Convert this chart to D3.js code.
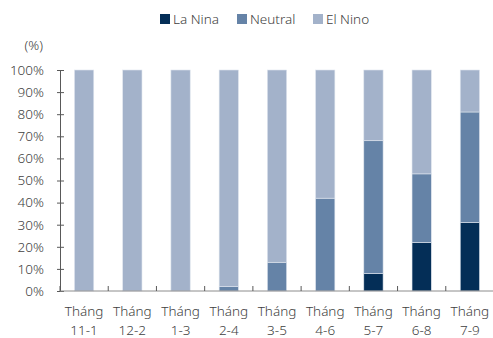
<html>
<head>
  <script src="https://d3js.org/d3.v7.min.js"></script>
  <style>
  body{ margin:0; background:#fff; }
  svg{ display:block; font-family:"Source Sans Pro","Noto Sans",sans-serif; font-weight:300; }
  </style>
</head>
<body>
<svg id="chart" width="493" height="338"></svg>
<script type="text/javascript">
var categories=["11-1","12-2","1-3","2-4","3-5","4-6","5-7","6-8","7-9"];
var laNina=[0,0,0,0,0,0,8,22,31];
var neutral=[0,0,0,2,13,42,60,31,50];
var elNino=[100,100,100,98,87,58,32,47,19];
var seriesNames=["La Nina","Neutral","El Nino"];
var colors=["#042e57","#6583a7","#a3b2ca"];
var yTicks=[0,10,20,30,40,50,60,70,80,90,100];

var chartL=60, chartR=494, chartT=70, chartB=291;
var fs="13.5px";

var rows=categories.map(function(c,i){
  return {cat:c,"La Nina":laNina[i],"Neutral":neutral[i],"El Nino":elNino[i]};
});
var stack=d3.stack().keys(seriesNames)(rows);

var svg=d3.select("#chart");
var x=d3.scaleBand().domain(categories).range([chartL,chartR]).paddingInner(0.6).paddingOuter(0.3);
var y=d3.scaleLinear().domain([0,100]).range([chartB,chartT]);
var step=x.step();

// bars
svg.selectAll("g.series")
   .data(stack)
   .enter()
   .append("g")
   .attr("class","series")
   .attr("fill",function(d,i){ return colors[i] })
   .selectAll("rect")
   .data(function(d){ return d.filter(function(p){ return p[1]-p[0]>0 }) })
   .enter()
   .append("rect")
   .attr("x",function(d){ return x(d.data.cat) })
   .attr("y",function(d){ return y(d[1]) })
   .attr("width",x.bandwidth())
   .attr("height",function(d){ return y(d[0])-y(d[1]) })
   .attr("stroke","#dfe5ee")
   .attr("stroke-width",0.6);

// y axis
var yAxis=svg.append("g")
   .attr("transform","translate("+chartL+",0)")
   .call(d3.axisLeft(y).tickValues(yTicks).tickSize(3).tickSizeOuter(0)
     .tickFormat(function(d){ return d+"%" }));
yAxis.select(".domain").attr("stroke","#595959");
yAxis.selectAll(".tick line").attr("x2",4).attr("x1",-3).attr("stroke","#595959");
yAxis.selectAll(".tick text").attr("x",-16).attr("fill","#404040")
   .style("font-size",fs).style("font-family","'Source Sans Pro','Noto Sans',sans-serif");

// x axis
var xAxis=svg.append("g")
   .attr("transform","translate(0,"+chartB+")");
xAxis.append("line").attr("x1",chartL).attr("x2",chartR).attr("stroke","#8c8c8c");
xAxis.selectAll("line.tk")
   .data(categories)
   .enter()
   .append("line")
   .attr("class","tk")
   .attr("x1",function(d){ return x(d)-step*0.3 })
   .attr("x2",function(d){ return x(d)-step*0.3 })
   .attr("y1",0).attr("y2",-5)
   .attr("stroke","#595959");
xAxis.selectAll("text.l1")
   .data(categories)
   .enter()
   .append("text")
   .attr("x",function(d){ return x(d)+x.bandwidth()/2 })
   .attr("y",25)
   .attr("text-anchor","middle")
   .attr("fill","#404040")
   .style("font-size",fs)
   .text("Tháng");
xAxis.selectAll("text.l2")
   .data(categories)
   .enter()
   .append("text")
   .attr("x",function(d){ return x(d)+x.bandwidth()/2 })
   .attr("y",44)
   .attr("text-anchor","middle")
   .attr("fill","#404040")
   .style("font-size",fs)
   .text(function(d){ return d });

// unit label
svg.append("text").attr("x",43).attr("y",50).attr("text-anchor","end")
   .attr("fill","#404040").style("font-size",fs).text("(%)");

// legend
var legendX=[160,237,313];
var legend=svg.selectAll("g.legend")
   .data(seriesNames)
   .enter()
   .append("g")
   .attr("class","legend")
   .attr("transform",function(d,i){ return "translate("+legendX[i]+",14)" });
legend.append("rect").attr("width",10).attr("height",10)
   .attr("fill",function(d,i){ return colors[i] });
legend.append("text").attr("x",13).attr("y",10)
   .attr("fill","#404040").style("font-size",fs)
   .text(function(d){ return d });
</script>
</body>
</html>
